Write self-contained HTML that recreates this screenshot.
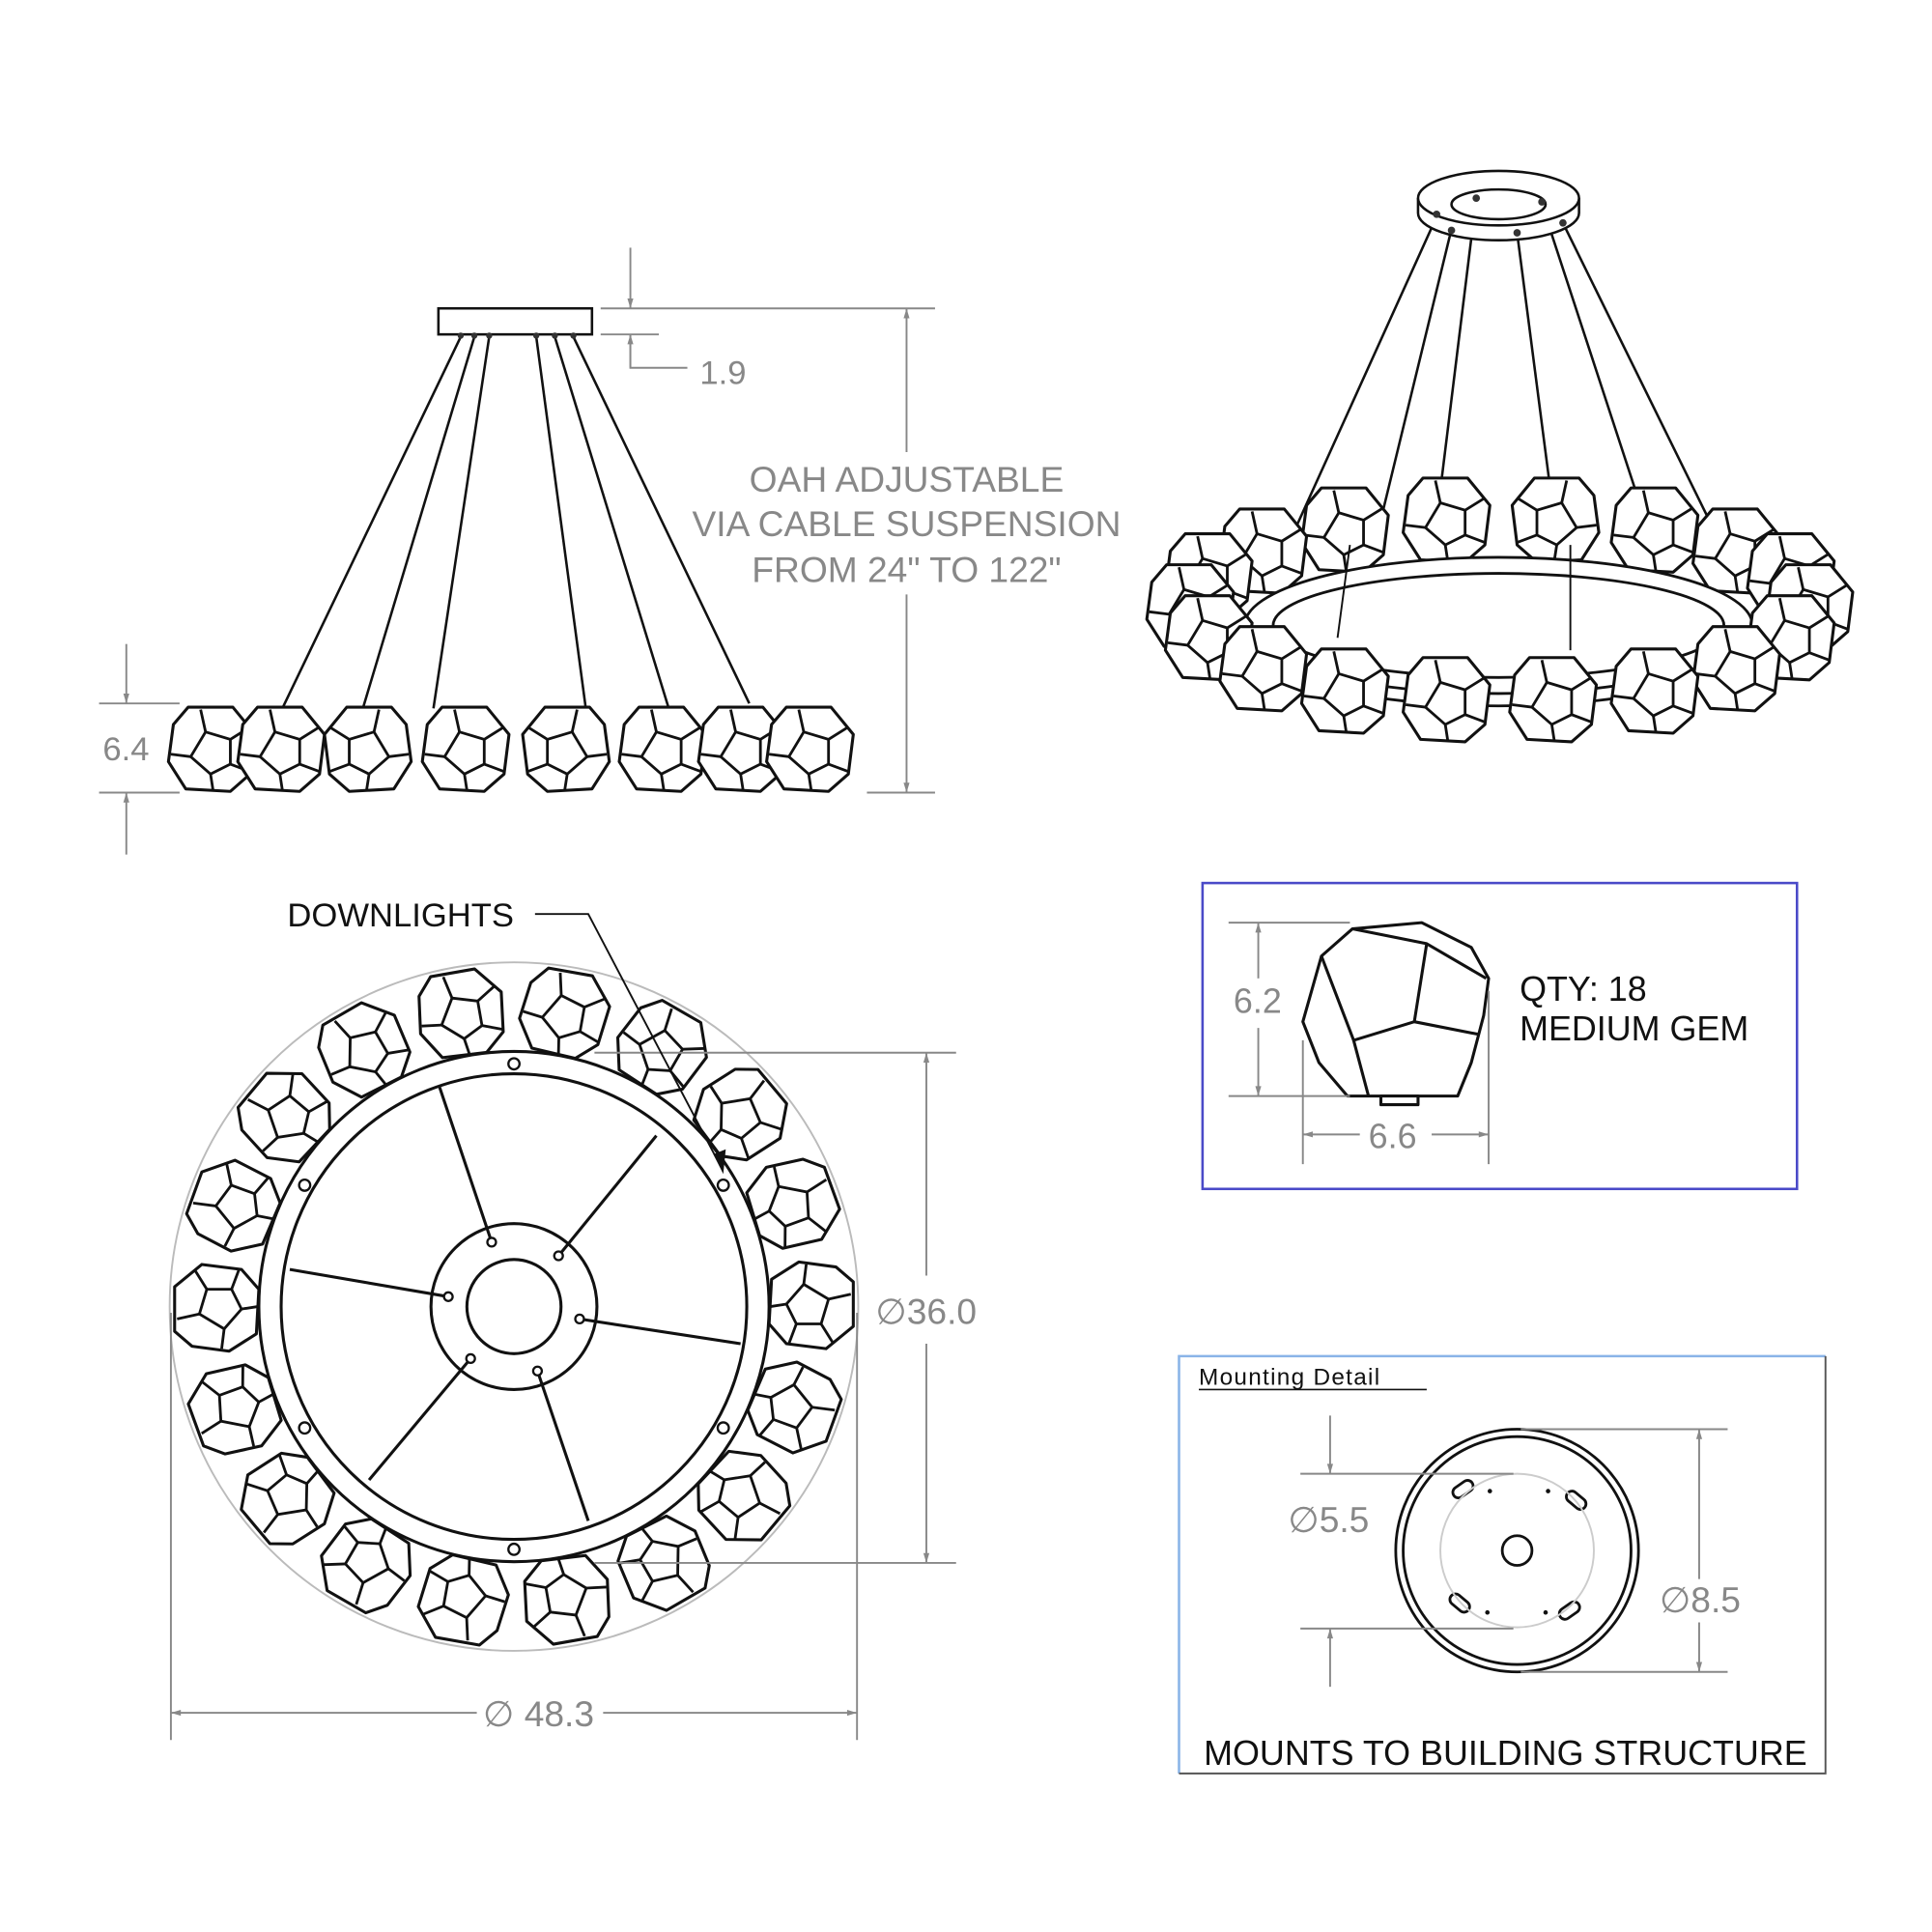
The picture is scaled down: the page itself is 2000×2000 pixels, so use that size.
<!DOCTYPE html>
<html><head><meta charset="utf-8"><style>
html,body{margin:0;padding:0;background:#fff}
svg{display:block}
text{font-family:"Liberation Sans",sans-serif}
</style></head><body>
<svg width="2000" height="2000" viewBox="0 0 1560 1560" xmlns="http://www.w3.org/2000/svg">
<defs>
<g id="g">
<polygon points="-20,-34 16,-34 34,-12 30,20 14,34 -22,32 -36,10 -32,-20" fill="#fff" stroke="#111" stroke-width="2.4" stroke-linejoin="round"/>
<polygon points="-6,-14 14,-8 14,12 -2,20 -18,6" fill="none" stroke="#111" stroke-width="2.2"/>
<path d="M-6,-14 L-10,-32 M14,-8 L30,-18 M14,12 L30,18 M-2,20 L0,33 M-18,6 L-34,4" fill="none" stroke="#111" stroke-width="2.2"/>
</g>
<marker id="a" viewBox="0 0 10 10" refX="10" refY="5" markerWidth="14" markerHeight="8" markerUnits="userSpaceOnUse" orient="auto"><path d="M0,2 L10,5 L0,8 z" fill="#888"/></marker>
</defs>

<!-- SIDE ELEVATION -->
<g stroke="#111" stroke-width="2" fill="none">
<line x1="372" y1="272" x2="228" y2="572"/>
<line x1="383" y1="272" x2="293" y2="572"/>
<line x1="395" y1="272" x2="350" y2="572"/>
<line x1="433" y1="272" x2="473" y2="572"/>
<line x1="448" y1="272" x2="540" y2="572"/>
<line x1="463" y1="272" x2="605" y2="568"/>
<rect x="354" y="249" width="124" height="21" fill="#fff"/>
</g>
<g fill="#333"><circle cx="372" cy="271" r="2.5"/><circle cx="383" cy="271" r="2.5"/><circle cx="395" cy="271" r="2.5"/><circle cx="433" cy="271" r="2.5"/><circle cx="448" cy="271" r="2.5"/><circle cx="463" cy="271" r="2.5"/></g>
<use href="#g" transform="translate(172,605)"/>
<use href="#g" transform="translate(228,605)"/>
<use href="#g" transform="translate(296,605) scale(-1,1)"/>
<use href="#g" transform="translate(377,605)"/>
<use href="#g" transform="translate(456,605) scale(-1,1)"/>
<use href="#g" transform="translate(536,605)"/>
<use href="#g" transform="translate(600,605)"/>
<use href="#g" transform="translate(655,605)"/>

<g stroke="#888" stroke-width="1.5" fill="none">
<line x1="485" y1="249" x2="755" y2="249"/>
<line x1="485" y1="270" x2="532" y2="270"/>
<line x1="700" y1="640" x2="755" y2="640"/>
<line x1="732" y1="365" x2="732" y2="249" marker-end="url(#a)"/>
<line x1="732" y1="480" x2="732" y2="640" marker-end="url(#a)"/>
<line x1="509" y1="200" x2="509" y2="249" marker-end="url(#a)"/>
<polyline points="555,297 509,297 509,270" />
<line x1="509" y1="297" x2="509" y2="270" marker-end="url(#a)"/>
<line x1="80" y1="568" x2="145" y2="568"/>
<line x1="80" y1="640" x2="145" y2="640"/>
<line x1="102" y1="520" x2="102" y2="568" marker-end="url(#a)"/>
<line x1="102" y1="690" x2="102" y2="640" marker-end="url(#a)"/>
</g>
<text x="565" y="310" font-size="27" fill="#888">1.9</text>
<text x="83" y="614" font-size="27" fill="#888">6.4</text>
<g font-size="29" fill="#888" text-anchor="middle">
<text x="732" y="397">OAH ADJUSTABLE</text>
<text x="732" y="433">VIA CABLE SUSPENSION</text>
<text x="732" y="470">FROM 24" TO 122"</text>
</g>

<!-- ISO VIEW -->
<g stroke="#111" stroke-width="2" fill="none">
<line x1="1160" y1="175" x2="1040" y2="440"/>
<line x1="1172" y1="185" x2="1110" y2="440"/>
<line x1="1192" y1="160" x2="1160" y2="420"/>
<line x1="1225" y1="188" x2="1268" y2="520"/>
<line x1="1245" y1="165" x2="1335" y2="440"/>
<line x1="1262" y1="180" x2="1385" y2="430"/>
<path d="M1145,160 v12 a65,22 0 0 0 130,0 v-12" fill="#fff"/>
<ellipse cx="1210" cy="160" rx="65" ry="22" fill="#fff"/>
<ellipse cx="1210" cy="165" rx="38" ry="12"/>
</g>
<g fill="#333"><circle cx="1160" cy="173" r="3"/><circle cx="1172" cy="186" r="3"/><circle cx="1192" cy="160" r="3"/><circle cx="1225" cy="188" r="3"/><circle cx="1245" cy="163" r="3"/><circle cx="1262" cy="180" r="3"/></g>
<use href="#g" transform="translate(1169,420)"/>
<use href="#g" transform="translate(1255,420) scale(-1,1)"/>
<use href="#g" transform="translate(1087,428)"/>
<use href="#g" transform="translate(1337,428)"/>
<use href="#g" transform="translate(1021,445)"/>
<use href="#g" transform="translate(1403,445)"/>
<use href="#g" transform="translate(977,465)"/>
<use href="#g" transform="translate(1447,465)"/>
<use href="#g" transform="translate(962,490)"/>
<use href="#g" transform="translate(1462,490)"/>
<g stroke="#111" stroke-width="2.2" fill="none">
<path d="M1005,505 v10 a205,55 0 0 0 410,0 v-10" fill="#fff"/>
<ellipse cx="1210" cy="505" rx="205" ry="55" fill="#fff"/>
<ellipse cx="1210" cy="505" rx="182" ry="42"/>
<line x1="1080" y1="515" x2="1090" y2="440" stroke-width="1.5"/>
<line x1="1268" y1="440" x2="1268" y2="525" stroke-width="1.5"/>
</g>
<use href="#g" transform="translate(977,515)"/>
<use href="#g" transform="translate(1447,515)"/>
<use href="#g" transform="translate(1021,540)"/>
<use href="#g" transform="translate(1403,540)"/>
<use href="#g" transform="translate(1087,558)"/>
<use href="#g" transform="translate(1337,558)"/>
<use href="#g" transform="translate(1169,565)"/>
<use href="#g" transform="translate(1255,565)"/>

<!-- PLAN VIEW -->
<circle cx="415" cy="1055" r="278" fill="none" stroke="#bbb" stroke-width="1.5"/>
<g>
<use href="#g" transform="rotate(10 415 1055) translate(415 815) rotate(0)"/>
<use href="#g" transform="rotate(30 415 1055) translate(415 815)"/>
<use href="#g" transform="rotate(50 415 1055) translate(415 815)"/>
<use href="#g" transform="rotate(70 415 1055) translate(415 815)"/>
<use href="#g" transform="rotate(90 415 1055) translate(415 815)"/>
<use href="#g" transform="rotate(110 415 1055) translate(415 815)"/>
<use href="#g" transform="rotate(130 415 1055) translate(415 815)"/>
<use href="#g" transform="rotate(150 415 1055) translate(415 815)"/>
<use href="#g" transform="rotate(170 415 1055) translate(415 815)"/>
<use href="#g" transform="rotate(190 415 1055) translate(415 815)"/>
<use href="#g" transform="rotate(210 415 1055) translate(415 815)"/>
<use href="#g" transform="rotate(230 415 1055) translate(415 815)"/>
<use href="#g" transform="rotate(250 415 1055) translate(415 815)"/>
<use href="#g" transform="rotate(270 415 1055) translate(415 815)"/>
<use href="#g" transform="rotate(290 415 1055) translate(415 815)"/>
<use href="#g" transform="rotate(310 415 1055) translate(415 815)"/>
<use href="#g" transform="rotate(330 415 1055) translate(415 815)"/>
<use href="#g" transform="rotate(350 415 1055) translate(415 815)"/>
</g>
<g stroke="#111" stroke-width="2.4" fill="none">
<circle cx="415" cy="1055" r="206" fill="#fff"/>
<circle cx="415" cy="1055" r="188"/>
<circle cx="415" cy="1055" r="67"/>
<circle cx="415" cy="1055" r="38"/>
<line x1="397" y1="1003" x2="355" y2="878"/>
<line x1="451" y1="1014" x2="530" y2="917"/>
<line x1="468" y1="1065" x2="598" y2="1085"/>
<line x1="434" y1="1107" x2="475" y2="1228"/>
<line x1="380" y1="1097" x2="298" y2="1195"/>
<line x1="362" y1="1047" x2="234" y2="1025"/>
</g>
<g stroke="#111" stroke-width="1.8" fill="#fff">
<circle cx="415" cy="859" r="4.5"/><circle cx="415" cy="1251" r="4.5"/>
<circle cx="246" cy="957" r="4.5"/><circle cx="584" cy="957" r="4.5"/>
<circle cx="246" cy="1153" r="4.5"/><circle cx="584" cy="1153" r="4.5"/>
<circle cx="397" cy="1003" r="3.5"/><circle cx="451" cy="1014" r="3.5"/><circle cx="468" cy="1065" r="3.5"/><circle cx="434" cy="1107" r="3.5"/><circle cx="380" cy="1097" r="3.5"/><circle cx="362" cy="1047" r="3.5"/>
</g>
<g stroke="#888" stroke-width="1.5" fill="none">
<line x1="480" y1="850" x2="772" y2="850"/>
<line x1="480" y1="1262" x2="772" y2="1262"/>
<line x1="748" y1="1030" x2="748" y2="850" marker-end="url(#a)"/>
<line x1="748" y1="1085" x2="748" y2="1262" marker-end="url(#a)"/>
<line x1="138" y1="1060" x2="138" y2="1405"/>
<line x1="692" y1="1060" x2="692" y2="1405"/>
<line x1="385" y1="1383" x2="138" y2="1383" marker-end="url(#a)"/>
<line x1="487" y1="1383" x2="692" y2="1383" marker-end="url(#a)"/>
</g>
<text x="707" y="1069" font-size="29" fill="#888">∅36.0</text>
<text x="390" y="1394" font-size="29" fill="#888">∅ 48.3</text>
<text x="232" y="748" font-size="27" fill="#111">DOWNLIGHTS</text>
<polyline points="432,738 475,738 582,942" fill="none" stroke="#111" stroke-width="1.5"/>
<path d="M576,932 L584,948 L586,928 z" fill="#111"/>

<!-- GEM DETAIL -->
<rect x="971" y="713" width="480" height="247" fill="none" stroke="#4a4ac8" stroke-width="2"/>
<g stroke="#111" stroke-width="2.4" fill="#fff" stroke-linejoin="round">
<polygon points="1092,750 1148,745 1188,765 1202,790 1198,820 1188,858 1177,885 1088,885 1065,858 1052,825 1067,772"/>
<polyline points="1067,772 1093,840 1142,825 1193,835" fill="none"/>
<polyline points="1093,840 1105,885" fill="none"/>
<polyline points="1142,825 1152,762" fill="none"/>
<polyline points="1092,750 1152,762 1200,790" fill="none"/>
<rect x="1115" y="885" width="30" height="7"/>
</g>
<g stroke="#888" stroke-width="1.5" fill="none">
<line x1="992" y1="745" x2="1090" y2="745"/>
<line x1="992" y1="885" x2="1090" y2="885"/>
<line x1="1016" y1="790" x2="1016" y2="745" marker-end="url(#a)"/>
<line x1="1016" y1="830" x2="1016" y2="885" marker-end="url(#a)"/>
<line x1="1052" y1="840" x2="1052" y2="940"/>
<line x1="1202" y1="800" x2="1202" y2="940"/>
<line x1="1098" y1="916" x2="1052" y2="916" marker-end="url(#a)"/>
<line x1="1156" y1="916" x2="1202" y2="916" marker-end="url(#a)"/>
</g>
<text x="996" y="818" font-size="28" fill="#888">6.2</text>
<text x="1105" y="927" font-size="28" fill="#888">6.6</text>
<text x="1227" y="808" font-size="28" fill="#111">QTY: 18</text>
<text x="1227" y="840" font-size="28" fill="#111">MEDIUM GEM</text>

<!-- MOUNTING DETAIL -->
<path d="M952,1432 V1095 H1474" fill="none" stroke="#8ab4e8" stroke-width="2"/>
<path d="M1474,1095 V1432 H952" fill="none" stroke="#555" stroke-width="1.5"/>
<text x="968" y="1118" font-size="19" fill="#111" letter-spacing="1">Mounting  Detail</text>
<line x1="968" y1="1122" x2="1152" y2="1122" stroke="#111" stroke-width="1.3"/>
<g stroke="#111" stroke-width="2.2" fill="none">
<circle cx="1225" cy="1252" r="98"/>
<circle cx="1225" cy="1252" r="92"/>
<circle cx="1225" cy="1252" r="12"/>
<rect x="1172" y="1198" width="18" height="9" rx="4.5" transform="rotate(-35 1181 1202)"/>
<rect x="1264" y="1207" width="18" height="9" rx="4.5" transform="rotate(40 1273 1211)"/>
<rect x="1170" y="1290" width="18" height="9" rx="4.5" transform="rotate(40 1179 1294)"/>
<rect x="1258" y="1296" width="18" height="9" rx="4.5" transform="rotate(-35 1267 1300)"/>
</g>
<circle cx="1225" cy="1252" r="62" fill="none" stroke="#ccc" stroke-width="1.5"/>
<g fill="#111"><circle cx="1203" cy="1204" r="1.8"/><circle cx="1250" cy="1204" r="1.8"/><circle cx="1201" cy="1302" r="1.8"/><circle cx="1248" cy="1302" r="1.8"/></g>
<g stroke="#888" stroke-width="1.5" fill="none">
<line x1="1050" y1="1190" x2="1222" y2="1190"/>
<line x1="1050" y1="1315" x2="1222" y2="1315"/>
<line x1="1074" y1="1143" x2="1074" y2="1190" marker-end="url(#a)"/>
<line x1="1074" y1="1362" x2="1074" y2="1315" marker-end="url(#a)"/>
<line x1="1228" y1="1154" x2="1395" y2="1154"/>
<line x1="1228" y1="1350" x2="1395" y2="1350"/>
<line x1="1372" y1="1275" x2="1372" y2="1154" marker-end="url(#a)"/>
<line x1="1372" y1="1310" x2="1372" y2="1350" marker-end="url(#a)"/>
</g>
<text x="1040" y="1237" font-size="29" fill="#888">∅5.5</text>
<text x="1340" y="1302" font-size="29" fill="#888">∅8.5</text>
<text x="972" y="1425" font-size="28" fill="#111">MOUNTS TO BUILDING STRUCTURE</text>
</svg>
</body></html>
